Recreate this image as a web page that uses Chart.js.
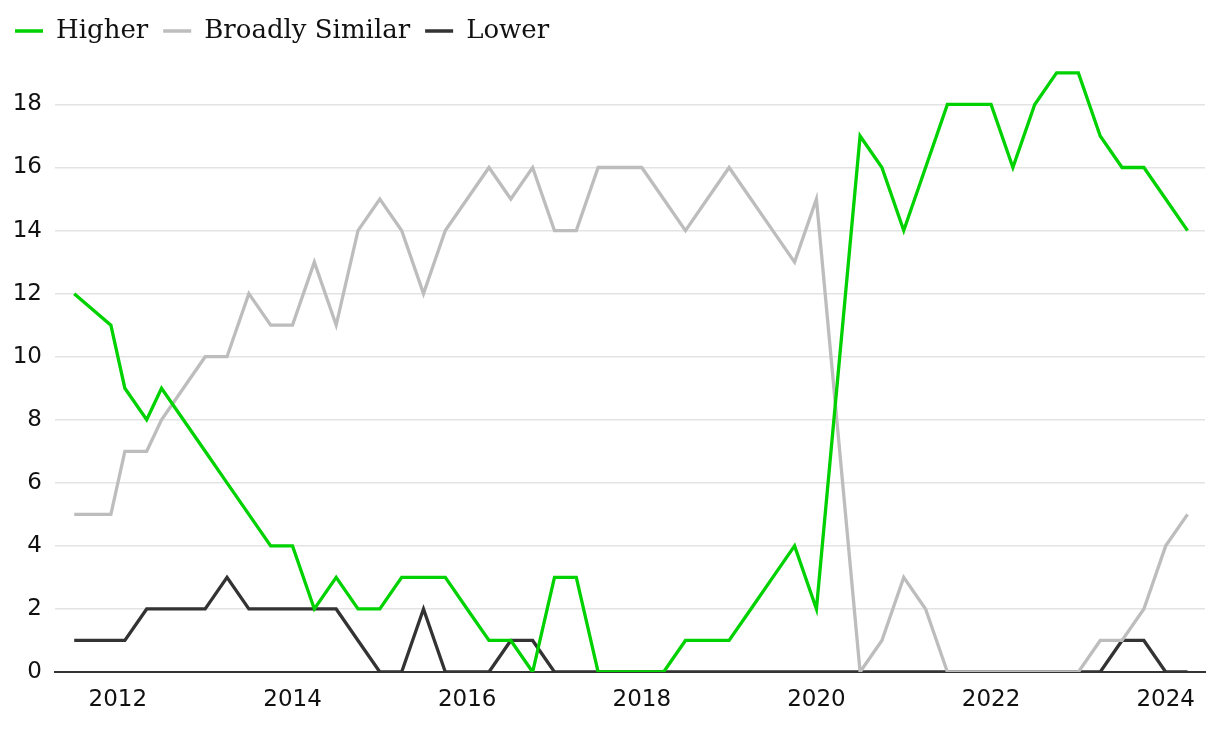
<!DOCTYPE html>
<html>
<head>
<meta charset="utf-8">
<script src="https://cdn.jsdelivr.net/npm/chart.js@4/dist/chart.umd.min.js"></script>
<style>
  html, body { margin: 0; padding: 0; background: #fff; }
  #wrap { width: 1220px; height: 732px; }
</style>
</head>
<body>
<div id="wrap"><canvas id="chart"></canvas></div>
<script>
// survey dates as decimal years
const dates = [
    2011.5, 2011.92, 2012.08, 2012.33, 2012.5, 2012.75,
    2013.0, 2013.25, 2013.5, 2013.75,
    2014.0, 2014.25, 2014.5, 2014.75,
    2015.0, 2015.25, 2015.5, 2015.75,
    2016.0, 2016.25, 2016.5, 2016.75,
    2017.0, 2017.25, 2017.5, 2017.75,
    2018.0, 2018.25, 2018.5, 2018.75,
    2019.0, 2019.25, 2019.5, 2019.75,
    2020.0, 2020.5, 2020.75,
    2021.0, 2021.25, 2021.5, 2021.75,
    2022.0, 2022.25, 2022.5, 2022.75,
    2023.0, 2023.25, 2023.5, 2023.75,
    2024.0, 2024.25,
];

const higher = [
    12, 11, 9, 8, 9, 8,
    7, 6, 5, 4,
    4, 2, 3, 2,
    2, 3, 3, 3,
    2, 1, 1, 0,
    3, 3, 0, 0,
    0, 0, 1, 1,
    1, 2, 3, 4,
    2, 17, 16,
    14, 16, 18, 18,
    18, 16, 18, 19,
    19, 17, 16, 16,
    15, 14,
];

const broadlySimilar = [
    5, 5, 7, 7, 8, 9,
    10, 10, 12, 11,
    11, 13, 11, 14,
    15, 14, 12, 14,
    15, 16, 15, 16,
    14, 14, 16, 16,
    16, 15, 14, 15,
    16, 15, 14, 13,
    15, 0, 1,
    3, 2, 0, 0,
    0, 0, 0, 0,
    0, 1, 1, 2,
    4, 5,
];

const lower = [
    1, 1, 1, 2, 2, 2,
    2, 3, 2, 2,
    2, 2, 2, 1,
    0, 0, 2, 0,
    0, 0, 1, 1,
    0, 0, 0, 0,
    0, 0, 0, 0,
    0, 0, 0, 0,
    0, 0, 0,
    0, 0, 0, 0,
    0, 0, 0, 0,
    0, 0, 1, 1,
    0, 0,
];

const xTicks = [2012, 2014, 2016, 2018, 2020, 2022, 2024];
const yTicks = [0, 2, 4, 6, 8, 10, 12, 14, 16, 18];

const toPoints = (vals) => vals.map((v, i) => ({ x: dates[i], y: v }));

const line = (label, vals, color) => ({
    label: label,
    data: toPoints(vals),
    borderColor: color,
    backgroundColor: color,
    borderWidth: 3.3,
    pointRadius: 0,
    tension: 0,
});

new Chart(document.getElementById("chart").getContext("2d"), {
    type: "line",
    data: {
        datasets: [
            line("Higher", higher, "#00d100"),
            line("Broadly Similar", broadlySimilar, "#bdbdbd"),
            line("Lower", lower, "#333333"),
        ],
    },
    options: {
        responsive: true,
        maintainAspectRatio: false,
        animation: false,
        layout: { padding: { top: 3, right: 15, bottom: 0, left: 0 } },
        plugins: {
            legend: {
                position: "top",
                align: "start",
                labels: {
                    boxWidth: 28,
                    boxHeight: 0,
                    padding: 15,
                    color: "#111",
                    font: { family: "DejaVu Serif", size: 26 },
                },
            },
            tooltip: { enabled: false },
        },
        scales: {
            x: {
                type: "linear",
                min: 2011.28,
                max: 2024.45,
                afterBuildTicks: (scale) => { scale.ticks = xTicks.map(v => ({ value: v })); },
                afterFit: (scale) => { scale.height = 60; },
                grid: { display: false, drawTicks: false },
                border: { display: true, color: "#333", width: 2 },
                ticks: {
                    padding: 14,
                    color: "#111",
                    maxRotation: 0,
                    font: { family: "DejaVu Sans", size: 23 },
                    callback: (v) => String(v),
                },
            },
            y: {
                min: 0,
                max: 19.6,
                afterBuildTicks: (scale) => { scale.ticks = yTicks.map(v => ({ value: v })); },
                afterFit: (scale) => { scale.width = 55; },
                grid: { color: "#e3e3e3", lineWidth: 1.5, drawTicks: false },
                border: { display: false },
                ticks: {
                    padding: 13,
                    color: "#111",
                    font: { family: "DejaVu Sans", size: 23 },
                },
            },
        },
    },
});
</script>
</body>
</html>
